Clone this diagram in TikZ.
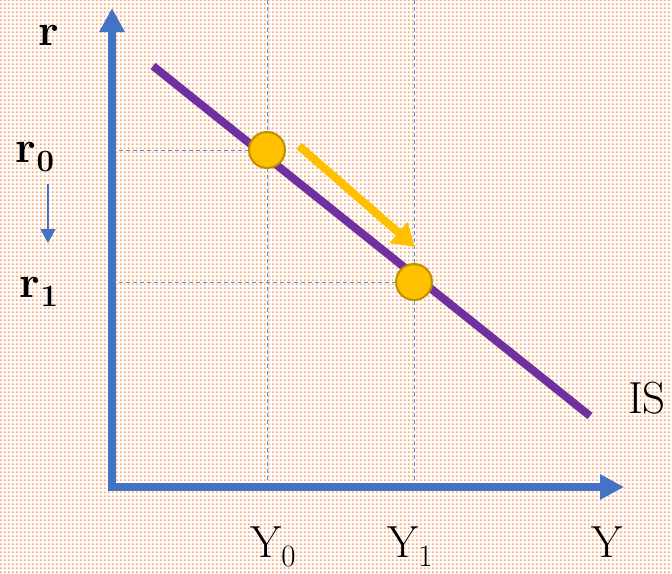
\documentclass[tikz,border=0pt]{standalone}
\usetikzlibrary{arrows.meta,patterns.meta}
\definecolor{AxisClr}{RGB}{68,114,196}
\definecolor{CurveClr}{RGB}{112,48,160}
\definecolor{PointClr}{RGB}{255,192,0}
\definecolor{PointEdge}{RGB}{191,144,0}
\definecolor{GuideClr}{RGB}{100,140,210}
\definecolor{BgDotClr}{RGB}{244,170,122}
\newcommand{\lowidx}[1]{\raisebox{-0.22em}{\fontsize{31}{34}\selectfont #1}}

\pgfdeclarepattern{name=bgdots, type=uncolored,
  bottom left={\pgfpoint{0pt}{0pt}}, top right={\pgfpoint{4pt}{4pt}},
  tile size={\pgfpoint{4pt}{4pt}},
  code={\pgfpathrectangle{\pgfpoint{1pt}{1pt}}{\pgfpoint{2.2pt}{2.2pt}}\pgfusepath{fill}}}

\begin{document}
\begin{tikzpicture}[x=1pt,y=-1pt,
  axis/.style={line width=7.5pt,color=AxisClr,-{Triangle[length=24pt,width=24pt]}},
  guide/.style={line width=1pt,color=GuideClr,dash pattern=on 4pt off 3pt},
  eqpt/.style={circle,draw=PointEdge,fill=PointClr,line width=2pt,minimum size=36pt,inner sep=0pt},
  lbl/.style={font=\fontsize{45}{50}\selectfont,inner sep=0pt,anchor=base}]

\useasboundingbox (0,0) rectangle (672,573);
\fill[white] (0,0) rectangle (672,573);
\fill[pattern={bgdots},pattern color=BgDotClr] (0,0) rectangle (672,573);

% axes
\coordinate (O) at (112,487);
\coordinate (top) at (112,0);
\coordinate (ytip) at (112,8);
\coordinate (xstart) at (108,487);
\coordinate (xtip) at (624,487);

% equilibrium points
\coordinate (E0c) at (267,150);
\coordinate (E1c) at (414,282);

% dashed guides
\draw[guide] (E0c |- top) -- (E0c |- O);
\draw[guide] (E1c |- top) -- (E1c |- O);
\draw[guide] (O |- E0c) -- (E0c);
\draw[guide] (O |- E1c) -- (E1c);

\draw[axis] (112,491) -- (ytip);
\draw[axis] (xstart) -- (xtip);

% IS curve
\coordinate (ISa) at (153,66);
\coordinate (ISb) at (590,416);
\draw[line width=8pt,color=CurveClr] (ISa) -- (ISb);

\node[eqpt] (E0) at (E0c) {};
\node[eqpt] (E1) at (E1c) {};

% movement along IS
\coordinate (mvA) at (299,146);
\coordinate (mvB) at (415,247);
\draw[line width=8pt,color=PointClr,-{Triangle[length=22pt,width=26pt]}] (mvA) -- (mvB);

% labels
\node[lbl] (rlab) at (49,45) {\textbf{r}};
\node[lbl] (r0lab) at (35,162) {\textbf{r\lowidx{0}}};
\node[lbl] (r1lab) at (39,297) {\textbf{r\lowidx{1}}};
\coordinate (dnA) at (48,184);
\coordinate (dnB) at (48,243);
\draw[line width=1.5pt,color=AxisClr,-{Triangle[length=14pt,width=15pt]}] (dnA) -- (dnB);

\node[lbl] (Y0lab) at (273,557) {Y\lowidx{0}};
\node[lbl] (Y1lab) at (410,557) {Y\lowidx{1}};
\node[lbl] (Ylab) at (607,557) {Y};
\node[lbl] (ISlab) at (647,413) {IS};

\end{tikzpicture}
\end{document}
